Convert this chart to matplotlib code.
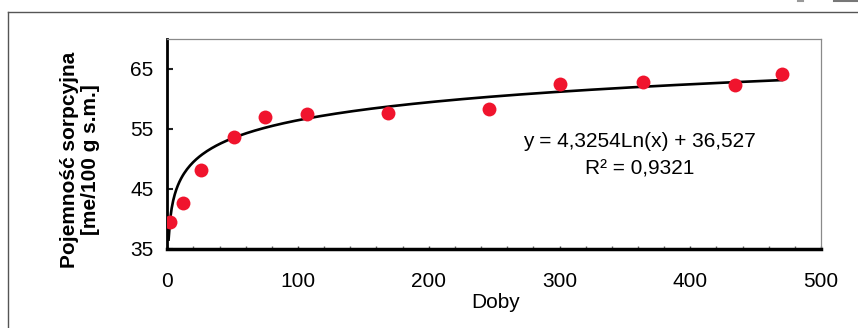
import numpy as np
import matplotlib
matplotlib.use("Agg")
import matplotlib.pyplot as plt
from matplotlib.lines import Line2D
from matplotlib.ticker import MultipleLocator

plt.rcParams['font.family'] = ['Liberation Sans', 'DejaVu Sans']

# Data
days = [2, 12, 26, 51, 75, 107, 169, 246, 300, 364, 434, 470]
capacity = [39.5, 42.7, 48.1, 53.7, 56.9, 57.4, 57.6, 58.3, 62.5, 62.9, 62.4, 64.2]

# Logarithmic trend line coefficients shown on the chart
trend_a = 4.3254
trend_b = 36.527

x_ticks = [0, 100, 200, 300, 400, 500]
y_ticks = [35, 45, 55, 65]

W, H = 858, 328
fig = plt.figure(figsize=(W / 100, H / 100), dpi=100)

left, right, top, bottom = 167.3, 821, 39, 248.7
ax = fig.add_axes([left / W, 1 - bottom / H, (right - left) / W, (bottom - top) / H])

ax.set_xlim(0, 500)
ax.set_ylim(35, 70)

xs = np.linspace(1, max(days), 400)
ax.plot(xs, trend_a * np.log(xs) + trend_b, color='black', lw=1.9, zorder=2)
ax.plot(days, capacity, 'o', color='#f0142d', markersize=10, markeredgewidth=0, zorder=3)

ax.set_xticks(x_ticks)
ax.set_yticks(y_ticks)
ax.xaxis.set_minor_locator(MultipleLocator(20))
ax.tick_params(axis='x', which='major', direction='in', length=2.5, width=1, color='#444444',
               labelsize=15, pad=17)
ax.tick_params(axis='x', which='minor', direction='in', length=2.5, width=1, color='#666666')
ax.tick_params(axis='y', which='major', direction='in', length=4, width=1.5, color='#222222',
               labelsize=15, pad=10)

ax.spines['left'].set_linewidth(2)
ax.spines['left'].set_color('black')
ax.spines['bottom'].set_linewidth(2.5)
ax.spines['bottom'].set_color('black')
for s in ('top', 'right'):
    ax.spines[s].set_linewidth(0.9)
    ax.spines[s].set_color('#8a8a8a')

ax.text(0.722, 0.447, 'y = 4,3254Ln(x) + 36,527\nR² = 0,9321', transform=ax.transAxes,
        ha='center', va='center', fontsize=15, multialignment='center', linespacing=1.55)

fig.text(496 / W, 1 - 302 / H, 'Doby', ha='center', va='center', fontsize=15)
fig.text(80 / W, 1 - 160 / H, 'Pojemność sorpcyjna\n[me/100 g s.m.]', rotation=90,
         ha='center', va='center', fontsize=15, fontweight='bold',
         multialignment='center', linespacing=1.15)

# Outer chart frame
fig.add_artist(Line2D([8 / W, 1.0], [1 - 12 / H, 1 - 12 / H], transform=fig.transFigure,
                      color='#555555', lw=1))
fig.add_artist(Line2D([8 / W, 8 / W], [0, 1 - 12 / H], transform=fig.transFigure,
                      color='#555555', lw=1))
# small marks at top right edge
fig.add_artist(Line2D([834 / W, 857 / W], [1 - 1 / H, 1 - 1 / H], transform=fig.transFigure,
                      color='#777777', lw=1.5))
fig.add_artist(Line2D([798 / W, 803 / W], [1 - 1 / H, 1 - 1 / H], transform=fig.transFigure,
                      color='#999999', lw=1.5))

fig.savefig('out.png', dpi=100)
